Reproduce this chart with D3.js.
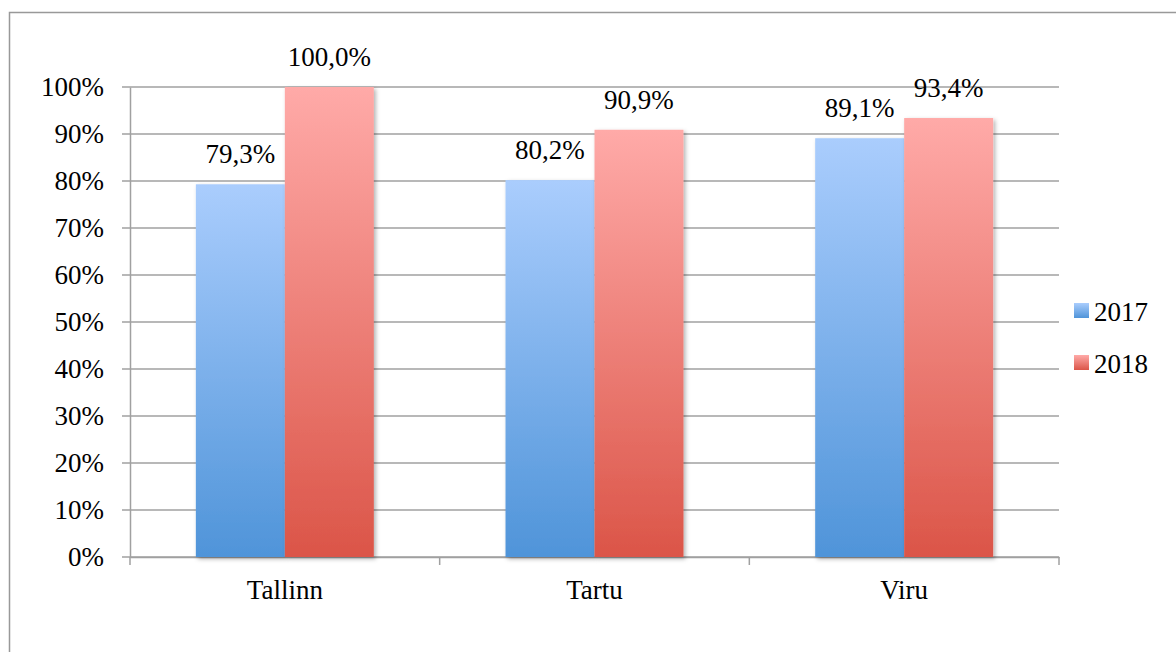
<!DOCTYPE html>
<html>
<head>
<meta charset="utf-8">
<script src="https://cdn.jsdelivr.net/npm/d3@7"></script>
<style>
  body { margin: 0; background: #fff; }
</style>
</head>
<body>
<div id="chart"></div>
<script>
const categories = ["Tallinn", "Tartu", "Viru"];
const seriesNames = ["2017", "2018"];
const values2017 = [79.3, 80.2, 89.1];
const values2018 = [100.0, 90.9, 93.4];
const yTicks = [0, 10, 20, 30, 40, 50, 60, 70, 80, 90, 100];

const FONT = '"Liberation Serif"';
const W = 1176, H = 652;
const margin = { top: 87, right: 117, bottom: 95, left: 130 };
const width = W - margin.left - margin.right,
  height = H - margin.top - margin.bottom;

const svg = d3.select("#chart").append("svg")
  .attr("width", W).attr("height", H);

// outer frame
svg.append("rect")
  .attr("x", 9.5).attr("y", 12.5)
  .attr("width", W + 20).attr("height", H + 20)
  .attr("fill", "none").attr("stroke", "#999").attr("stroke-width", 1.5);

const defs = svg.append("defs");
const grads = [["#aacdfd", "#4f94d9"], ["#ffaaa8", "#db5548"]];
grads.forEach((c, i) => {
  const g = defs.append("linearGradient").attr("id", "g" + i)
    .attr("x1", 0).attr("y1", 0).attr("x2", 0).attr("y2", 1);
  g.append("stop").attr("offset", "0%").attr("stop-color", c[0]);
  g.append("stop").attr("offset", "100%").attr("stop-color", c[1]);
});
const sh = defs.append("filter").attr("id", "shadow")
  .attr("x", "-10%").attr("y", "-10%").attr("width", "130%").attr("height", "130%");
sh.append("feDropShadow").attr("dx", 2).attr("dy", 2).attr("stdDeviation", 2)
  .attr("flood-color", "#000").attr("flood-opacity", 0.3);

const g = svg.append("g").attr("transform", `translate(${margin.left},${margin.top})`);

const x = d3.scaleBand().domain(categories).range([0, width]).paddingInner(0).paddingOuter(0);
const x1 = d3.scaleBand().domain(seriesNames).range([0, x.bandwidth()]).paddingInner(0).paddingOuter(0.74);
const y = d3.scaleLinear().domain([0, 100]).range([height, 0]);

// gridlines
g.append("g").selectAll("line").data(yTicks).join("line")
  .attr("x1", -8).attr("x2", width)
  .attr("y1", d => y(d)).attr("y2", d => y(d))
  .attr("stroke", "#a0a0a0").attr("stroke-width", 1.5);

// y axis
const yAxis = g.append("g")
  .call(d3.axisLeft(y).tickValues(yTicks).tickSize(0).tickPadding(26).tickFormat(d => d + "%"));
yAxis.attr("font-family", FONT);
yAxis.select(".domain").attr("stroke", "#a0a0a0").attr("stroke-width", 1.5);
yAxis.selectAll("text").attr("font-size", 27).attr("fill", "#000").style("font-family", FONT);

// x axis
const xAxis = g.append("g").attr("transform", `translate(0,${height})`)
  .call(d3.axisBottom(x).tickSize(0).tickPadding(23));
xAxis.attr("font-family", FONT);
xAxis.select(".domain").attr("stroke", "#a0a0a0").attr("stroke-width", 1.5);
xAxis.selectAll("text").attr("font-size", 27).attr("fill", "#000").style("font-family", FONT);
const bounds = [0, 1, 2, 3].map(i => i * x.bandwidth());
xAxis.append("g").selectAll("line").data(bounds).join("line")
  .attr("x1", d => d).attr("x2", d => d).attr("y1", 0).attr("y2", 8)
  .attr("stroke", "#a0a0a0").attr("stroke-width", 1.5);

// bars
const data = categories.map((c, i) => ({
  cat: c,
  vals: [{ s: "2017", v: values2017[i], k: 0 }, { s: "2018", v: values2018[i], k: 1 }]
}));
const groups = g.append("g").selectAll("g").data(data).join("g")
  .attr("transform", d => `translate(${x(d.cat)},0)`);
groups.selectAll("rect").data(d => d.vals).join("rect")
  .attr("x", d => x1(d.s)).attr("width", x1.bandwidth())
  .attr("y", d => y(d.v)).attr("height", d => height - y(d.v))
  .attr("fill", d => `url(#g${d.k})`)
  .attr("filter", "url(#shadow)");
groups.selectAll("text").data(d => d.vals).join("text")
  .attr("x", d => x1(d.s) + x1.bandwidth() / 2)
  .attr("y", d => y(d.v) - 21)
  .attr("text-anchor", "middle").attr("font-size", 27)
  .style("font-family", FONT)
  .text(d => d.v.toFixed(1).replace(".", ",") + "%");

// legend
const leg = svg.append("g").attr("transform", "translate(1074,303)");
seriesNames.forEach((s, i) => {
  const r = leg.append("g").attr("transform", `translate(0,${i * 52})`);
  r.append("rect").attr("width", 15).attr("height", 15).attr("fill", `url(#g${i})`);
  r.append("text").attr("x", 20).attr("y", 18).attr("font-size", 27)
    .style("font-family", FONT).text(s);
});
</script>
</body>
</html>
